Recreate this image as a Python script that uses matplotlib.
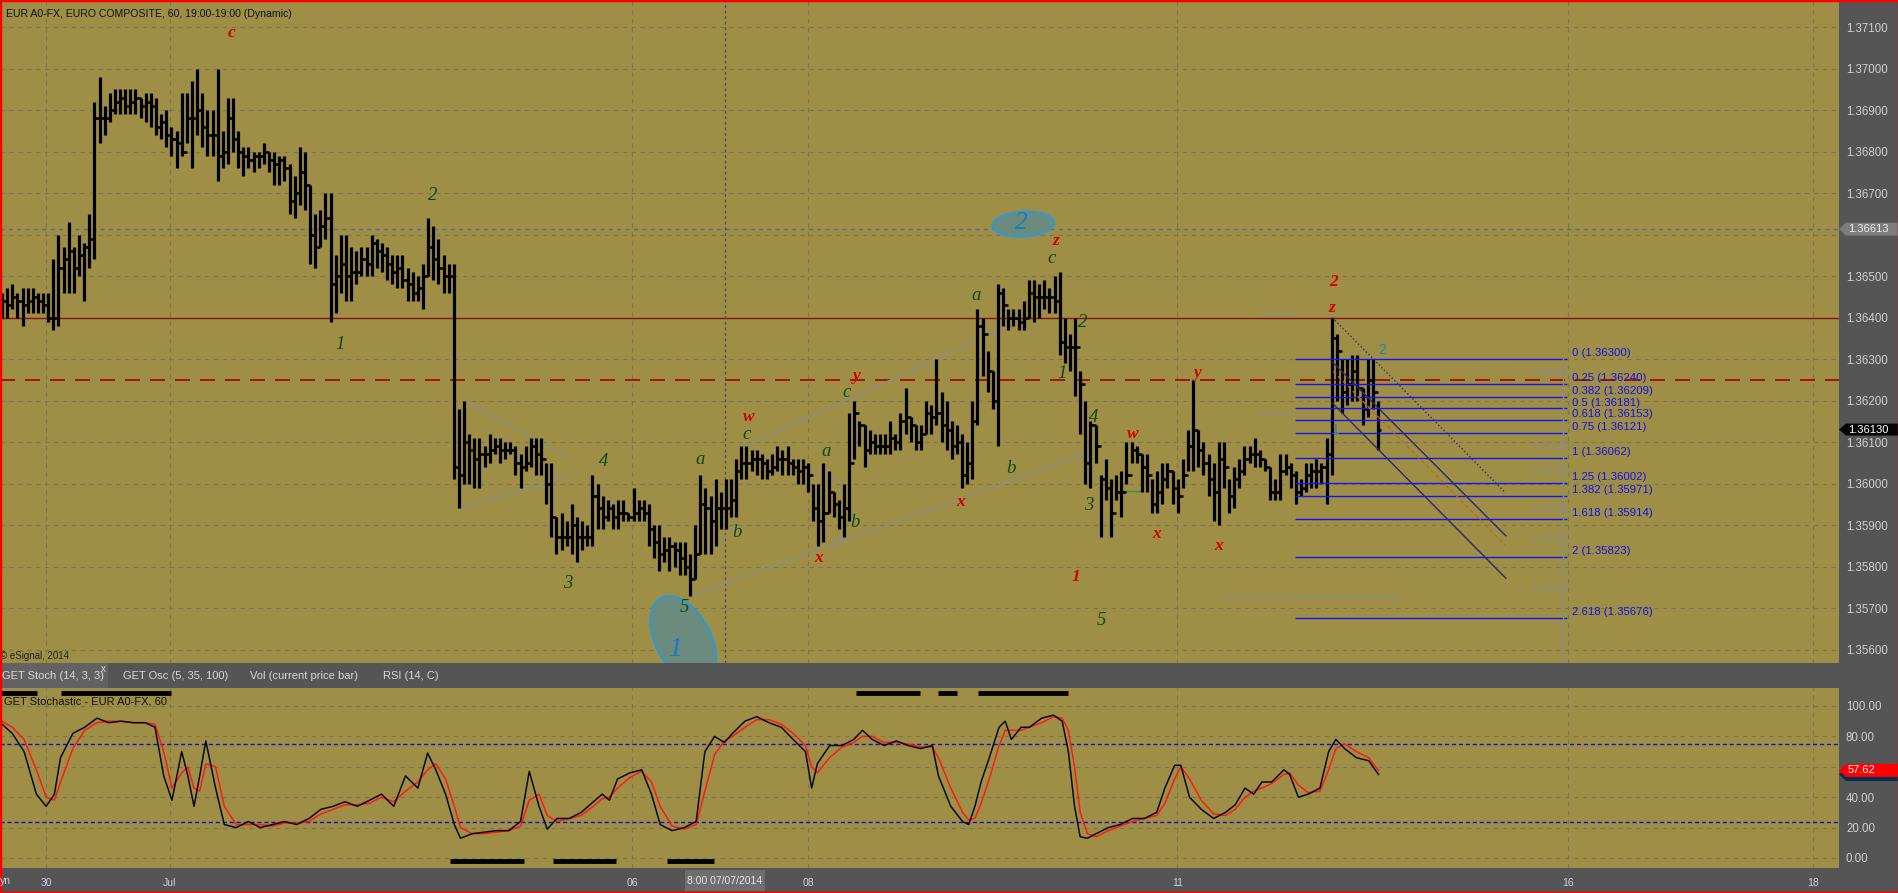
import numpy as np
import matplotlib
matplotlib.use("Agg")
import matplotlib.pyplot as plt
from matplotlib.patches import Ellipse, Polygon
from matplotlib.transforms import IdentityTransform

plt.rcParams['font.family'] = ['Liberation Sans', 'DejaVu Sans']

# EUR A0-FX hourly bars (30 Jun - 11 Jul 2014)
highs = [
    1.3646, 1.3647, 1.3648, 1.3646, 1.3647, 1.3647, 1.3647, 1.3646, 1.3646, 1.3646,
    1.3654, 1.3660, 1.3657, 1.3663, 1.3657, 1.3660, 1.3658, 1.3665, 1.3692, 1.3698,
    1.3691, 1.3694, 1.3695, 1.3695, 1.3695, 1.3695, 1.3695, 1.3693, 1.3694, 1.3694,
    1.3693, 1.3689, 1.3690, 1.3686, 1.3685, 1.3694, 1.3694, 1.3697, 1.3700, 1.3694,
    1.3690, 1.3690, 1.3700, 1.3685, 1.3693, 1.3693, 1.3685, 1.3681, 1.3681, 1.3680,
    1.3680, 1.3682, 1.3680, 1.3680, 1.3679, 1.3679, 1.3677, 1.3674, 1.3681, 1.3680,
    1.3672, 1.3665, 1.3666, 1.3670, 1.3670, 1.3655,
    1.3660, 1.3660, 1.3657, 1.3656, 1.3657, 1.3657, 1.3660, 1.3659, 1.3658, 1.3657,
    1.3655, 1.3655, 1.3655, 1.3652, 1.3651, 1.3650, 1.3653, 1.3664, 1.3662, 1.3659,
    1.3655, 1.3653, 1.3653, 1.3618, 1.3620, 1.3612, 1.3611, 1.3611, 1.3609, 1.3612,
    1.3611, 1.3611, 1.3610, 1.3610, 1.3609, 1.3607, 1.3609, 1.3611, 1.3611, 1.3611,
    1.3605, 1.3605, 1.3592, 1.3593, 1.3591, 1.3595, 1.3592, 1.3591, 1.3590, 1.3602,
    1.3600, 1.3597, 1.3596, 1.3595, 1.3596, 1.3596, 1.3593, 1.3599, 1.3596, 1.3596,
    1.3595, 1.3590, 1.3590, 1.3587, 1.3587, 1.3586, 1.3586, 1.3586, 1.3583, 1.3590,
    1.3602, 1.3599, 1.3597, 1.3601, 1.3598, 1.3601, 1.3601, 1.3606, 1.3609, 1.3609,
    1.3608, 1.3608, 1.3607, 1.3606, 1.3607, 1.3609, 1.3608, 1.3609, 1.3606, 1.3606,
    1.3606, 1.3605, 1.3600, 1.3600, 1.3605, 1.3603, 1.3598, 1.3596, 1.3600, 1.3617,
    1.3620, 1.3615, 1.3614, 1.3613, 1.3612, 1.3612, 1.3612, 1.3615, 1.3612, 1.3617,
    1.3623, 1.3616, 1.3614, 1.3614, 1.3620, 1.3619, 1.3630, 1.3622, 1.3620, 1.3615,
    1.3614, 1.3612, 1.3610, 1.3620, 1.3642, 1.3640, 1.3632, 1.3627, 1.3648, 1.3647,
    1.3642, 1.3642, 1.3642, 1.3644, 1.3649, 1.3649, 1.3648, 1.3649, 1.3647, 1.3650,
    1.3651, 1.3640, 1.3636, 1.3640, 1.3627, 1.3620, 1.3615, 1.3614, 1.3602, 1.3606,
    1.3601, 1.3602, 1.3603, 1.3610, 1.3610, 1.3609, 1.3607, 1.3607, 1.3601, 1.3603,
    1.3605, 1.3605, 1.3603, 1.3601, 1.3606, 1.3613, 1.3625, 1.3613, 1.3610, 1.3607,
    1.3605, 1.3610, 1.3610, 1.3601, 1.3604, 1.3606, 1.3609, 1.3609, 1.3611, 1.3608,
    1.3606, 1.3604, 1.3601, 1.3607, 1.3607, 1.3605, 1.3603, 1.3601, 1.3605, 1.3605,
    1.3606, 1.3605, 1.3611, 1.3640, 1.3636, 1.3630, 1.3630, 1.3631, 1.3631, 1.3623,
    1.3630, 1.3630, 1.3620,
]
lows = [
    1.3640, 1.3640, 1.3642, 1.3640, 1.3638, 1.3641, 1.3641, 1.3641, 1.3641, 1.3639,
    1.3637, 1.3638, 1.3646, 1.3646, 1.3646, 1.3650, 1.3644, 1.3652, 1.3654, 1.3682,
    1.3684, 1.3687, 1.3689, 1.3689, 1.3689, 1.3689, 1.3689, 1.3688, 1.3687, 1.3686,
    1.3684, 1.3683, 1.3681, 1.3679, 1.3676, 1.3679, 1.3682, 1.3676, 1.3684, 1.3681,
    1.3679, 1.3679, 1.3673, 1.3676, 1.3677, 1.3680, 1.3676, 1.3674, 1.3676, 1.3675,
    1.3676, 1.3677, 1.3675, 1.3672, 1.3672, 1.3673, 1.3665, 1.3664, 1.3667, 1.3666,
    1.3653, 1.3652, 1.3657, 1.3659, 1.3639, 1.3641,
    1.3646, 1.3644, 1.3644, 1.3648, 1.3650, 1.3650, 1.3650, 1.3652, 1.3651, 1.3649,
    1.3648, 1.3647, 1.3647, 1.3644, 1.3644, 1.3644, 1.3642, 1.3650, 1.3649, 1.3648,
    1.3646, 1.3646, 1.3601, 1.3594, 1.3600, 1.3600, 1.3599, 1.3599, 1.3604, 1.3605,
    1.3607, 1.3605, 1.3606, 1.3607, 1.3602, 1.3599, 1.3603, 1.3604, 1.3602, 1.3602,
    1.3595, 1.3587, 1.3583, 1.3584, 1.3585, 1.3583, 1.3581, 1.3584, 1.3585, 1.3585,
    1.3589, 1.3589, 1.3591, 1.3589, 1.3589, 1.3591, 1.3591, 1.3591, 1.3591, 1.3591,
    1.3585, 1.3582, 1.3579, 1.3581, 1.3579, 1.3580, 1.3578, 1.3578, 1.3573, 1.3577,
    1.3583, 1.3583, 1.3583, 1.3585, 1.3589, 1.3589, 1.3592, 1.3592, 1.3601, 1.3601,
    1.3603, 1.3602, 1.3601, 1.3601, 1.3602, 1.3603, 1.3602, 1.3602, 1.3602, 1.3600,
    1.3600, 1.3598, 1.3591, 1.3585, 1.3586, 1.3593, 1.3592, 1.3589, 1.3587, 1.3591,
    1.3606, 1.3609, 1.3604, 1.3607, 1.3607, 1.3607, 1.3607, 1.3607, 1.3608, 1.3608,
    1.3612, 1.3610, 1.3608, 1.3608, 1.3612, 1.3612, 1.3614, 1.3610, 1.3608, 1.3606,
    1.3607, 1.3599, 1.3600, 1.3601, 1.3614, 1.3626, 1.3622, 1.3618, 1.3609, 1.3638,
    1.3637, 1.3638, 1.3637, 1.3637, 1.3640, 1.3639, 1.3640, 1.3642, 1.3641, 1.3641,
    1.3631, 1.3629, 1.3627, 1.3621, 1.3612, 1.3600, 1.3599, 1.3605, 1.3587, 1.3596,
    1.3587, 1.3596, 1.3592, 1.3600, 1.3605, 1.3605, 1.3598, 1.3598, 1.3593, 1.3593,
    1.3595, 1.3599, 1.3595, 1.3593, 1.3599, 1.3603, 1.3603, 1.3604, 1.3602, 1.3597,
    1.3591, 1.3590, 1.3599, 1.3593, 1.3594, 1.3599, 1.3602, 1.3605, 1.3604, 1.3604,
    1.3603, 1.3596, 1.3596, 1.3596, 1.3602, 1.3599, 1.3595, 1.3597, 1.3598, 1.3599,
    1.3599, 1.3600, 1.3595, 1.3602, 1.3620, 1.3617, 1.3619, 1.3620, 1.3620, 1.3614,
    1.3616, 1.3618, 1.3608,
]
closes = [
    1.3644, 1.3643, 1.3645, 1.3644, 1.3643, 1.3644, 1.3645, 1.3644, 1.3643, 1.3640,
    1.3640, 1.3652, 1.3654, 1.3656, 1.3652, 1.3655, 1.3657, 1.3659, 1.3688, 1.3688,
    1.3688, 1.3690, 1.3692, 1.3693, 1.3691, 1.3692, 1.3693, 1.3691, 1.3692, 1.3691,
    1.3686, 1.3687, 1.3684, 1.3683, 1.3682, 1.3680, 1.3688, 1.3688, 1.3690, 1.3686,
    1.3684, 1.3684, 1.3679, 1.3680, 1.3688, 1.3683, 1.3680, 1.3679, 1.3678, 1.3679,
    1.3679, 1.3680, 1.3678, 1.3677, 1.3678, 1.3676, 1.3668, 1.3670, 1.3675, 1.3672,
    1.3660, 1.3657, 1.3662, 1.3664, 1.3648, 1.3650,
    1.3653, 1.3650, 1.3651, 1.3651, 1.3654, 1.3653, 1.3658, 1.3656, 1.3655, 1.3653,
    1.3651, 1.3652, 1.3649, 1.3648, 1.3646, 1.3647, 1.3650, 1.3657, 1.3654, 1.3652,
    1.3650, 1.3650, 1.3604, 1.3602, 1.3610, 1.3608, 1.3606, 1.3607, 1.3607, 1.3608,
    1.3609, 1.3608, 1.3608, 1.3608, 1.3605, 1.3604, 1.3605, 1.3609, 1.3607, 1.3606,
    1.3600, 1.3592, 1.3587, 1.3587, 1.3587, 1.3590, 1.3587, 1.3587, 1.3587, 1.3597,
    1.3594, 1.3592, 1.3594, 1.3592, 1.3593, 1.3593, 1.3592, 1.3593, 1.3594, 1.3593,
    1.3589, 1.3586, 1.3583, 1.3584, 1.3585, 1.3584, 1.3582, 1.3580, 1.3577, 1.3583,
    1.3595, 1.3594, 1.3591, 1.3594, 1.3594, 1.3594, 1.3596, 1.3603, 1.3605, 1.3605,
    1.3606, 1.3606, 1.3605, 1.3603, 1.3604, 1.3606, 1.3606, 1.3605, 1.3604, 1.3603,
    1.3604, 1.3602, 1.3594, 1.3591, 1.3593, 1.3598, 1.3595, 1.3592, 1.3594, 1.3605,
    1.3617, 1.3614, 1.3608, 1.3610, 1.3609, 1.3609, 1.3609, 1.3611, 1.3610, 1.3615,
    1.3616, 1.3614, 1.3610, 1.3612, 1.3617, 1.3616, 1.3617, 1.3614, 1.3613, 1.3609,
    1.3610, 1.3602, 1.3605, 1.3615, 1.3638, 1.3636, 1.3627, 1.3620, 1.3646, 1.3643,
    1.3640, 1.3640, 1.3639, 1.3640, 1.3646, 1.3645, 1.3645, 1.3645, 1.3645, 1.3644,
    1.3634, 1.3633, 1.3633, 1.3633, 1.3624, 1.3605, 1.3614, 1.3609, 1.3601, 1.3599,
    1.3593, 1.3598, 1.3598, 1.3602, 1.3608, 1.3607, 1.3604, 1.3602, 1.3595, 1.3598,
    1.3601, 1.3603, 1.3599, 1.3597, 1.3602, 1.3609, 1.3613, 1.3608, 1.3605, 1.3601,
    1.3598, 1.3606, 1.3604, 1.3597, 1.3601, 1.3603, 1.3606, 1.3607, 1.3607, 1.3606,
    1.3604, 1.3598, 1.3598, 1.3603, 1.3604, 1.3602, 1.3598, 1.3599, 1.3602, 1.3603,
    1.3603, 1.3604, 1.3607, 1.3635, 1.3632, 1.3622, 1.3624, 1.3627, 1.3623, 1.3618,
    1.3625, 1.3622, 1.3613,
]
assert len(highs) == len(lows) == len(closes)

# GET Stochastic (14, 3, 3): bar position, %K (black), %D (red)
stoch_x = [
    0, 2, 4.3, 6.7, 8.6, 10.2, 11.4, 13.8, 16.1, 18.5,
    20.8, 23.2, 25.6, 27.9, 29.8, 31.5, 33.1, 35, 36.2, 37.4,
    38.5, 39.7, 41.6, 43.3, 45.6, 48, 50.3, 52.7, 55, 57.4,
    59.8, 62.1, 64.5, 66.8, 69.2, 71.6, 73.9, 76.3, 78.6, 81,
    82.9, 84.5, 86.4, 88.1, 89.3, 91.6, 94, 96.3, 98.7, 101,
    102.7, 104.6, 106.2, 108.1, 110.5, 112.8, 115.2, 116.9, 118.3, 119.9,
    122.3, 124.6, 126.5, 128.2, 130.5, 132.9, 135.2, 136.9, 138.8, 140.7,
    142.3, 144.7, 147, 149.4, 151.8, 154.1, 156.5, 157.7, 158.8, 161.2,
    163.6, 165.9, 167.6, 169.5, 171.8, 174.2, 176.5, 178.9, 181.2, 182.4,
    184.8, 187.1, 188.3, 189.5, 190.7, 192.3, 194.2, 195.4, 196.6, 198.5,
    200.1, 202.5, 204.8, 206.5, 207.7, 208.9, 210, 211.4, 213.1, 215.5,
    217.8, 220.2, 222.5, 224.9, 226.5, 228.4, 229.6, 231.3, 233.6, 236,
    238.3, 240.2, 242.1, 243.8, 245.4, 247.3, 249.7, 250.8, 252.5, 254.4,
    256.7, 258.4, 259.8, 261.5, 263.8, 266.2, 268.1,
]
stoch_k = [
    88, 82, 70, 42, 34, 42, 66, 82, 86, 92,
    89, 90, 89, 89, 86, 54, 38, 70, 54, 34,
    54, 77, 46, 22, 20, 24, 20, 22, 24, 22,
    26, 32, 34, 37, 34, 38, 42, 34, 54, 46,
    69, 58, 42, 22, 13, 16, 17, 18, 18, 24,
    57, 34, 19, 26, 26, 30, 37, 42, 38, 52,
    56, 58, 42, 22, 18, 20, 24, 70, 80, 76,
    82, 90, 93, 89, 86, 78, 70, 46, 62, 74,
    74, 78, 84, 78, 74, 77, 74, 72, 74, 54,
    34, 24, 22, 34, 50, 66, 86, 90, 78, 86,
    86, 92, 94, 90, 70, 34, 14, 13, 16, 20,
    22, 26, 26, 30, 46, 61, 61, 40, 32, 26,
    30, 35, 46, 42, 50, 50, 58, 55, 40, 42,
    46, 70, 78, 72, 66, 64, 55,
]
stoch_d = [
    90, 86, 78, 58, 40, 38, 50, 72, 84, 89,
    90, 90, 89, 89, 88, 70, 46, 56, 60, 46,
    44, 62, 60, 34, 22, 22, 22, 21, 23, 23,
    24, 29, 32, 35, 35, 36, 40, 37, 44, 50,
    58, 62, 52, 34, 20, 16, 16, 17, 18, 21,
    38, 42, 28, 24, 26, 28, 34, 39, 40, 46,
    53, 57, 50, 34, 21, 19, 22, 44, 68, 77,
    80, 86, 91, 91, 88, 82, 74, 60, 56, 66,
    73, 76, 80, 80, 76, 76, 75, 73, 73, 66,
    46, 30, 25, 26, 36, 52, 74, 84, 84, 84,
    86, 89, 93, 92, 84, 60, 30, 16, 14, 18,
    21, 24, 26, 28, 36, 52, 60, 52, 38, 29,
    28, 32, 40, 44, 46, 49, 55, 56, 48, 43,
    44, 58, 72, 75, 70, 66, 57.6,
]

date_pos = [8.6, 32.7, 122.7, 157.0, 228.9, 305.0, 352.7]
date_labels = ['30', 'Jul', '06', '08', '11', '16', '18']
cursor_pos = 140.8

fib_ratio = ['0', '0.25', '0.382', '0.5', '0.618', '0.75', '1', '1.25', '1.382', '1.618', '2', '2.618']
fib_price = [1.36300, 1.36240, 1.36209, 1.36181, 1.36153, 1.36121, 1.36062,
             1.36002, 1.35971, 1.35914, 1.35823, 1.35676]
gap_text = ['0.00060', '0.00060', '0.00060', '0.00056', '0.00091', '0.00147']
gap_price = [1.36266, 1.36088, 1.36028, 1.35939, 1.35864, 1.35746]

level_solid = 1.3640
level_dash = 1.3625
level_prev = 1.36613
last_price = 1.36130

# elliott wave labels: text, bar, price, colour
waves = [
    ('c', 44.8, 1.37086, 'r'), ('2', 83.9, 1.36693, 'g'), ('1', 65.8, 1.36336, 'g'),
    ('4', 117.1, 1.36052, 'g'), ('3', 110.1, 1.35760, 'g'), ('5', 133.0, 1.35702, 'g'),
    ('a', 136.0, 1.36057, 'g'), ('b', 143.2, 1.35881, 'g'), ('c', 145.1, 1.36117, 'g'),
    ('w', 145.5, 1.36160, 'r'), ('a', 160.5, 1.36078, 'g'), ('b', 166.1, 1.35905, 'g'),
    ('x', 159.1, 1.35820, 'r'), ('c', 164.6, 1.36220, 'g'), ('y', 166.5, 1.36260, 'r'),
    ('x', 186.8, 1.35955, 'r'), ('b', 196.5, 1.36037, 'g'), ('a', 189.7, 1.36454, 'g'),
    ('1', 209.2, 1.35775, 'r'), ('3', 211.7, 1.35946, 'g'), ('5', 214.1, 1.35669, 'g'),
    ('4', 212.7, 1.36160, 'g'), ('1', 206.5, 1.36264, 'g'), ('2', 210.4, 1.36389, 'g'),
    ('c', 204.5, 1.36543, 'g'), ('z', 205.3, 1.36584, 'r'), ('w', 220.3, 1.36119, 'r'),
    ('x', 224.8, 1.35878, 'r'), ('y', 232.8, 1.36266, 'r'), ('x', 237.0, 1.35849, 'r'),
    ('z', 259.1, 1.36423, 'r'), ('2', 259.3, 1.36486, 'r'),
]

OLIVE = '#9f8f46'
GRID = '#7a7650'
W, H = 1899, 893

fig = plt.figure(figsize=(W / 100, H / 100), dpi=100, facecolor='#555555')


def box(x0, y0, x1, y1):
    return [x0 / W, 1 - y1 / H, (x1 - x0) / W, (y1 - y0) / H]


ax = fig.add_axes(box(0, 0, 1839, 663), facecolor=OLIVE)
axs = fig.add_axes(box(0, 688, 1839, 868), facecolor=OLIVE)

xmin, xmax = -0.39, 357.8
for a in (ax, axs):
    a.set_xlim(xmin, xmax)
    a.set_autoscale_on(False)
    for s in a.spines.values():
        s.set_visible(False)
    a.set_axisbelow(True)
    a.set_xticks(date_pos)
    a.grid(True, color=GRID, lw=0.8, linestyle=(0, (4, 4)))
    a.yaxis.tick_right()
    a.tick_params(length=0, labelsize=8.3, labelcolor='#cfcfcf', pad=5)
ax.set_ylim(1.355675, 1.371651)
axs.set_ylim(-6.58, 111.84)

# the 1.36600 and 60.00 labels sit under the price tags, as in the terminal
price_ticks = np.arange(1.356, 1.37105, 0.001)
ax.set_yticks(price_ticks)
ax.set_yticklabels(['' if abs(t - 1.366) < 1e-6 else f'{t:.5f}' for t in price_ticks])
ax.tick_params(axis='x', labelbottom=False)
stoch_ticks = np.arange(0, 101, 20)
axs.set_yticks(stoch_ticks)
axs.set_yticklabels(['' if t == 60 else f'{t:.2f}' for t in stoch_ticks])
axs.set_xticks(date_pos)
axs.set_xticklabels(date_labels)
axs.tick_params(axis='x', labelcolor='#c9d1e4', labelsize=7.5, pad=7)

# price bars
x = np.arange(len(closes))
opens = [closes[0]] + closes[:-1]
ax.vlines(x, lows, highs, color='black', lw=2.3, zorder=3)
ax.hlines(opens, x - 0.6, x, color='black', lw=1.8, zorder=3)
ax.hlines(closes, x, x + 0.6, color='black', lw=1.8, zorder=3)

ax.axhline(level_solid, color='#8b1010', lw=1.0, zorder=2)
ax.axhline(level_dash, color='#a80000', lw=1.2, dashes=(9, 6), zorder=2)
ax.axhline(level_prev, color='#5b6790', lw=1.0, dashes=(3, 3), zorder=2)
ax.axvline(cursor_pos, color='#505050', lw=1.0, dashes=(2, 2), zorder=2)

# hand drawn trend lines
grey_lines = [
    ((90.0, 1.36201), (110.1, 1.36064)), ((89.0, 1.35939), (110.1, 1.36016)),
    ((134.0, 1.35729), (210.6, 1.36069)), ((145.1, 1.36090), (195.4, 1.36377)),
    ((137.9, 1.35828), (143.2, 1.35907)), ((158.0, 1.36037), (163.9, 1.35999)),
    ((161.9, 1.35866), (164.8, 1.35864)), ((245.0, 1.36408), (252.0, 1.36408)),
    ((245.0, 1.36167), (252.0, 1.36167)), ((237.8, 1.35727), (272.1, 1.35727)),
]
for (xa, ya), (xb, yb) in grey_lines:
    ax.plot([xa, xb], [ya, yb], color='#8c8c88', lw=1.0, zorder=2)
ax.plot([217.8, 222.1], [1.35983, 1.35983], color='#2f9a2f', lw=1.0, zorder=2)

# falling channel from the last high
ax.plot([259.1, 292.9], [1.36400, 1.35977], color='#2a2a70', lw=1.0, ls=':', zorder=4)
ax.plot([259.1, 292.9], [1.36293, 1.35874], color='#2a2a70', lw=1.0, zorder=4)
ax.plot([259.1, 292.9], [1.36194, 1.35772], color='#2a2a70', lw=1.0, zorder=4)
ax.plot([259.3, 292.9], [1.36270, 1.35850], color='#c06a20', lw=1.0, dashes=(3, 2), zorder=4)

# fibonacci extension
ax.hlines(fib_price, 251.9, 304.8, color='#1414f0', lw=1.0, zorder=3)
ax.plot([304.1, 304.1], [fib_price[0], 1.3555], color='#8a8a80', lw=1.0, zorder=3)
for r, p in zip(fib_ratio, fib_price):
    ax.text(305.8, p + 0.00014, f'{r} ({p:.5f})', color='#1212e8', fontsize=8.2,
            va='center', ha='left', zorder=5)
for t, p in zip(gap_text, gap_price):
    ax.text(298.4, p, t, color='#8e8c76', fontsize=7.2, va='center', ha='left', zorder=4)

# wave labels
for t, wx, wy, c in waves:
    if c == 'r':
        ax.text(wx, wy, t, color='#d40000', fontsize=12.5, family='Liberation Serif',
                style='italic', weight='bold', ha='center', va='center', zorder=6)
    else:
        ax.text(wx, wy, t, color='#0c4a10', fontsize=13.5, family='Liberation Serif',
                style='italic', ha='center', va='center', zorder=6)
ax.text(259.8, 1.36129, '1', color='#2a7fa8', fontsize=10, ha='center', va='center', zorder=6)
ax.text(268.8, 1.36322, '2', color='#2a7fa8', fontsize=10, ha='center', va='center', zorder=6)

# circled degree labels
for cx, cy, w, h, ang in [(132.7, 1.35623, 55, 95, 28), (198.9, 1.36625, 62, 25, 3)]:
    px, py = ax.transData.transform((cx, cy))
    ax.add_patch(Ellipse((px, py), w, h, angle=ang, transform=IdentityTransform(),
                         fc='#6b8b7e', ec='#2b9ad6', lw=1.5, zorder=5))
ax.text(131.1, 1.35599, '1', color='#1b78c8', fontsize=20, family='Liberation Serif',
        style='italic', ha='center', va='center', zorder=6)
ax.text(198.5, 1.36628, '2', color='#1b78c8', fontsize=18, family='Liberation Serif',
        style='italic', ha='center', va='center', zorder=6)

ax.text(0.003, 1 - 14 / 663, 'EUR A0-FX, EURO COMPOSITE, 60, 19:00-19:00 (Dynamic)',
        transform=ax.transAxes, fontsize=7.6, color='#111111', va='center', ha='left')
ax.text(0.0, 1 - 656 / 663, '\u00a9 eSignal, 2014', transform=ax.transAxes,
        fontsize=7, color='#222222', va='center', ha='left')

# stochastic panel
axs.axhline(75, color='#1010c8', lw=1.0, dashes=(3, 2), zorder=2)
axs.axhline(24, color='#1010c8', lw=1.0, dashes=(3, 2), zorder=2)
axs.plot(stoch_x, stoch_d, color='#ff1a1a', lw=1.1, zorder=3)
axs.plot(stoch_x, stoch_k, color='#0a0a14', lw=1.1, zorder=4)
sig_top = [(-0.4, 6.8), (11.5, 32.9), (166.3, 178.8), (182.3, 186.0), (190.1, 207.6)]
sig_bot = [(87.3, 101.7), (107.3, 119.6), (129.5, 138.7)]
for xa, xb in sig_top:
    axs.plot([xa, xb], [108.5, 108.5], color='black', lw=3.5, solid_capstyle='butt')
for xa, xb in sig_bot:
    axs.plot([xa, xb], [-2.0, -2.0], color='black', lw=3.5, solid_capstyle='butt')
axs.text(0.002, 1 - 13 / 180, 'GET Stochastic - EUR A0-FX, 60', transform=axs.transAxes,
         fontsize=8, color='#111111', va='center', ha='left')

# indicator tabs
fig.patches.append(plt.Rectangle((0, 1 - 688 / H), 108 / W, 25 / H, transform=fig.transFigure,
                                 fc='#626262', ec='none'))
tabs = [('GET Stoch (14, 3, 3)', 2), ('GET Osc (5, 35, 100)', 123),
        ('Vol (current price bar)', 250), ('RSI (14, C)', 383)]
for t, px in tabs:
    fig.text(px / W, 1 - 676 / H, t, color='#d8d8d8', fontsize=8, va='center', ha='left')
fig.text(101 / W, 1 - 669 / H, 'x', color='#d8d8d8', fontsize=7, va='center', ha='left')

# cursor date box and left fragment
cy = 1 - 881 / H
fig.patches.append(plt.Rectangle((685 / W, 1 - 891 / H), 80 / W, 21 / H,
                                 transform=fig.transFigure, fc='#6e6e6e', ec='none'))
fig.text(725 / W, cy, '8:00 07/07/2014', color='#e6e6e6', fontsize=7.5, ha='center', va='center')
fig.text(0, cy, 'yn', color='#c9d1e4', fontsize=7.5, ha='left', va='center')


def tag(axis, value, text, face, tc='white', h=13):
    y = axis.transData.transform((0, value))[1]
    x0 = 1839
    pts = [(x0, y), (x0 + 7, y + h / 2), (W, y + h / 2), (W, y - h / 2), (x0 + 7, y - h / 2)]
    fig.add_artist(Polygon(pts, closed=True, fc=face, ec='none', transform=IdentityTransform()))
    if text:
        fig.text((x0 + 9) / W, y / H, text, color=tc, fontsize=8, va='center', ha='left')


tag(ax, level_prev, f'{level_prev:.5f}', '#7c7c7c', '#f0f0f0')
tag(ax, last_price, f'{last_price:.5f}', '#050505', h=12)
tag(axs, 54.97, '', '#0b2d4d')
tag(axs, stoch_d[-1] + 0.02, '57.62', '#ff0000')

fig.patches.append(plt.Rectangle((0, 0), 1, 1, transform=fig.transFigure, fill=False,
                                 ec='#ff0000', lw=2.5))

fig.savefig('out.png', dpi=100, facecolor=fig.get_facecolor())
